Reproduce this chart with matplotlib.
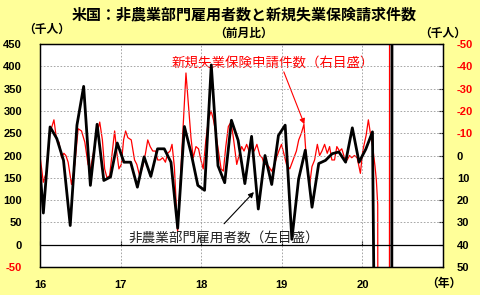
import numpy as np
import pandas as pd
import matplotlib
matplotlib.use('Agg')
import matplotlib.pyplot as plt

plt.rcParams['font.family'] = ['Noto Sans CJK JP', 'DejaVu Sans']

# 非農業部門雇用者数 前月比（千人）, 月次
nfp_months = pd.date_range('2015-12-01', '2020-06-01', freq='MS')
nfp = [265,
       71, 264, 238, 189, 43, 268, 355, 133, 270, 144, 152, 228,
       185, 185, 129, 197, 153, 215, 215, 185, 37, 265, 205, 133,
       122, 403, 177, 139, 279, 234, 137, 243, 80, 200, 135, 245,
       268, 12, 147, 212, 84, 182, 189, 204, 208, 185, 262, 185,
       214, 253, -1373, -20787, 2725, 4781]

# 新規失業保険申請件数 前月比（千人）, 時点は年の小数表示
claims_t = [2016.000, 2016.041, 2016.083, 2016.123, 2016.173, 2016.206, 2016.235, 2016.268,
            2016.296, 2016.321, 2016.349, 2016.391, 2016.432, 2016.473, 2016.515, 2016.556,
            2016.596, 2016.626, 2016.667, 2016.700, 2016.741, 2016.774, 2016.802, 2016.831,
            2016.864, 2016.898, 2016.926, 2016.954, 2016.979, 2017.009, 2017.037, 2017.062,
            2017.090, 2017.132, 2017.173, 2017.201, 2017.235, 2017.275, 2017.309, 2017.337,
            2017.367, 2017.399, 2017.432, 2017.460, 2017.490, 2017.522, 2017.556, 2017.584,
            2017.614, 2017.638, 2017.667, 2017.707, 2017.811, 2017.843, 2017.873, 2017.901,
            2017.935, 2017.967, 2017.996, 2018.025, 2018.058, 2018.090, 2018.123, 2018.152,
            2018.181, 2018.214, 2018.247, 2018.275, 2018.305, 2018.337, 2018.370, 2018.399,
            2018.441, 2018.469, 2018.502, 2018.531, 2018.564, 2018.593, 2018.626, 2018.658,
            2018.691, 2018.728, 2018.757, 2018.781, 2018.811, 2018.840, 2018.873, 2018.901,
            2018.935, 2018.963, 2018.996, 2019.025, 2019.058, 2019.099, 2019.140, 2019.181,
            2019.210, 2019.243, 2019.275, 2019.305, 2019.346, 2019.374, 2019.407, 2019.441,
            2019.469, 2019.498, 2019.531, 2019.564, 2019.593, 2019.621, 2019.654, 2019.683,
            2019.716, 2019.744, 2019.778, 2019.811, 2019.840, 2019.868, 2019.901, 2019.935,
            2019.975, 2020.004, 2020.046, 2020.074, 2020.107, 2020.127, 2020.157, 2020.173,
            2020.190, 2020.218, 2020.237, 2020.256, 2020.276, 2020.295, 2020.314, 2020.333,
            2020.352, 2020.372, 2020.391, 2020.410, 2020.429, 2020.448, 2020.467]
claims = [0, 12, 7, -10, -16, -7, -6, 1,
          -1, 0, 3, 13, 4, -12, -11, -6,
          4, 6, -2, -9, -15, -7, 6, 10,
          9, -2, -11, -1, 6, 4, -7, -11,
          -8, -7, 2, 4, 9, 5, -1, -7,
          -4, -2, -2, 2, 2, 1, 3, -1,
          -2, -5, 5, 34, -37, -22, -8, 1,
          -4, -3, 2, 6, -7, -16, -20, -16,
          -10, -2, 6, 7, -4, -13, -15, -8,
          4, 0, -4, -2, -5, -2, -4, -2,
          -5, 0, 1, 4, 4, 5, 7, 5,
          1, -2, -5, -1, 4, 6, 2, -2,
          -7, -10, -14, 2, 13, 5, 2, -5,
          0, -2, -5, -1, -4, 2, 2, -4,
          -2, -3, 1, 2, 0, 1, 0, 1,
          8, -2, -9, -16, -8, -4, 5, 11,
          22, 800, 2400, 3900, 3200, 1900, 1100, 300,
          -1500, -2100, -1500, -1000, -700, -400, -250]

year_ticks = [2016, 2017, 2018, 2019, 2020]
year_labels = ['16', '17', '18', '19', '20']
left_ticks = list(range(-50, 451, 50))
right_ticks = list(range(-50, 51, 10))

nfp_x = nfp_months.year + (nfp_months.month - 0.5) / 12

W, H = 480, 295
fig = plt.figure(figsize=(W / 100, H / 100), dpi=100, facecolor='#FFFF99')
ax = fig.add_axes([40 / W, 1 - 267 / H, 403 / W, 223 / H])
ax2 = ax.twinx()
ax.set_zorder(ax2.get_zorder() + 1)
ax.patch.set_visible(False)
ax2.patch.set_facecolor('white')
ax2.patch.set_visible(True)

ax2.plot(claims_t, claims, color='#FF0000', lw=0.9)
ax.plot(nfp_x, nfp, color='black', lw=2.0)

ax.set_xlim(2016, 2021)
ax.set_ylim(-50, 450)
ax2.set_ylim(50, -50)

ax.grid(True, color='#999999', lw=0.6, linestyle=(0, (2, 2)))
ax.axhline(0, color='black', lw=0.9)
for a in (ax, ax2):
    for s in a.spines.values():
        s.set_color('black')
        s.set_linewidth(0.9)

tick_font = dict(family='Liberation Sans', weight='bold', size=8)
ax.set_xticks(year_ticks)
ax.set_xticklabels(year_labels, fontdict=tick_font)
ax.tick_params(axis='x', length=0, pad=9)
ax.set_yticks(left_ticks)
ax.set_yticklabels([str(t) for t in left_ticks], fontdict=tick_font)
ax.tick_params(axis='y', length=0, pad=13)
for lab, t in zip(ax.get_yticklabels(), left_ticks):
    lab.set_color('red' if t < 0 else 'black')

ax2.set_yticks(right_ticks)
ax2.set_yticklabels([str(t) for t in right_ticks], fontdict=tick_font)
ax2.tick_params(axis='y', direction='in', length=3, pad=10)
for lab, t in zip(ax2.get_yticklabels(), right_ticks):
    lab.set_color('red' if t < 0 else 'black')

# 0の線上の年目盛り
sec = ax.secondary_xaxis(0.1)
sec.set_xticks(year_ticks)
sec.tick_params(direction='in', length=3, labelbottom=False)
sec.spines['bottom'].set_visible(False)

# 注記
ax2.text(2018.89, -41.5, '新規失業保険申請件数（右目盛）', color='#FF0000',
         ha='center', va='center', fontsize=9.7)
ax2.annotate('', xy=(2019.28, -14), xytext=(2019.025, -37.5),
             arrowprops=dict(arrowstyle='-|>', color='#FF0000', lw=0.8,
                             mutation_scale=8, shrinkA=0, shrinkB=0))
ax.text(2018.28, 16, '非農業部門雇用者数（左目盛）', color='#222222',
        ha='center', va='center', fontsize=9.8)
ax.annotate('', xy=(2018.654, 118), xytext=(2018.284, 47),
            arrowprops=dict(arrowstyle='-|>', color='black', lw=0.8,
                            mutation_scale=8, shrinkA=0, shrinkB=0))

fig.text(244 / W, 1 - 14 / H, '米国：非農業部門雇用者数と新規失業保険請求件数',
         ha='center', va='center', fontsize=10.8, fontweight='bold')
fig.text(47 / W, 1 - 29 / H, '（千人）', ha='center', va='center', fontsize=8.5, fontweight='bold')
fig.text(244 / W, 1 - 33 / H, '（前月比）', ha='center', va='center', fontsize=8.5, fontweight='bold')
fig.text(443 / W, 1 - 33 / H, '（千人）', ha='center', va='center', fontsize=8.5, fontweight='bold')
fig.text(444 / W, 1 - 283 / H, '（年）', ha='center', va='center', fontsize=8.5, fontweight='bold')

fig.savefig('out.png', dpi=100, facecolor=fig.get_facecolor())
